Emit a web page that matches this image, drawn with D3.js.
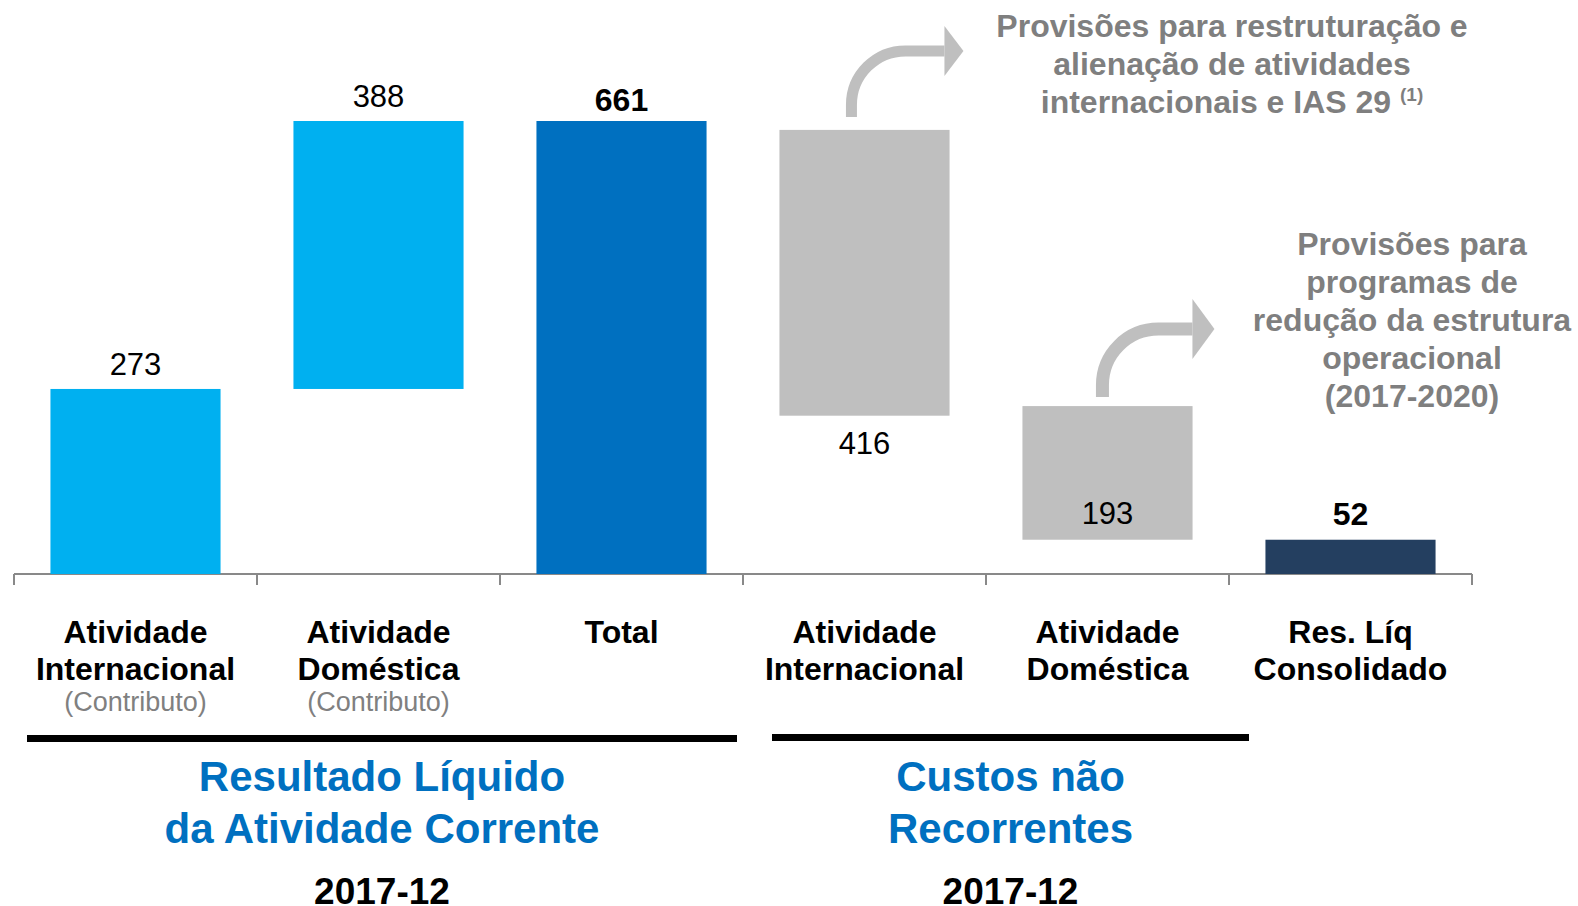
<!DOCTYPE html>
<html>
<head>
<meta charset="utf-8">
<script src="https://d3js.org/d3.v7.min.js"></script>
<style>
  body { margin: 0; background: #fff; }
  svg { display: block; font-family: "Liberation Sans", Arial, sans-serif; }
</style>
</head>
<body>
<svg width="1578" height="906"></svg>
<script>
// categories and values (EUR M)
var cats = ['intl', 'dom', 'total', 'intlCost', 'domCost', 'res'];
var catLabels = [['Atividade', 'Internacional'], ['Atividade', 'Doméstica'], ['Total'],
                 ['Atividade', 'Internacional'], ['Atividade', 'Doméstica'], ['Res. Líq', 'Consolidado']];
var subLabels = ['(Contributo)', '(Contributo)', '', '', '', ''];
var values = [273, 388, 661, 416, 193, 52];
// floating bar extents as drawn in the picture
var barFrom = [0, 270, 0, 648, 245, 0];
var barTo = [270, 661, 661, 231, 50, 50];
var barColors = ['#00B0F0', '#00B0F0', '#0070C0', '#BFBFBF', '#BFBFBF', '#243F60'];
var labelBold = [false, false, true, false, false, true];
var labelPos = ['above', 'above', 'above', 'below', 'inside', 'above'];

var groups = [
  {from: 0, to: 2, title: ['Resultado Líquido', 'da Atividade Corrente'], period: '2017-12'},
  {from: 3, to: 4, title: ['Custos não', 'Recorrentes'], period: '2017-12'}
];
var notes = [
  {bar: 3, lines: ['Provisões para restruturação e', 'alienação de atividades', 'internacionais e IAS 29'], sup: '(1)'},
  {bar: 4, lines: ['Provisões para', 'programas de', 'redução da estrutura', 'operacional', '(2017-2020)'], sup: ''}
];

var svg = d3.select('svg');

var x = d3.scaleBand().domain(cats).range([14, 1472]).paddingInner(0.3).paddingOuter(0.15);
var y = d3.scaleLinear().domain([0, 661]).range([574, 121]);

// axis line + ticks at band boundaries
var step = x.step();
var bounds = d3.range(cats.length + 1).map(function(i) { return x.range()[0] + i * step; });
svg.append('line')
  .attr('x1', bounds[0]).attr('x2', bounds[bounds.length - 1])
  .attr('y1', y(0)).attr('y2', y(0))
  .attr('stroke', '#898989').attr('stroke-width', 2);
svg.selectAll('.tick').data(bounds).enter().append('line')
  .attr('x1', function(d) { return d; }).attr('x2', function(d) { return d; })
  .attr('y1', y(0)).attr('y2', y(0) + 11)
  .attr('stroke', '#898989').attr('stroke-width', 2);

// bars
svg.selectAll('.bar').data(cats).enter().append('rect')
  .attr('x', function(d) { return x(d); })
  .attr('width', x.bandwidth())
  .attr('y', function(d, i) { return y(Math.max(barFrom[i], barTo[i])); })
  .attr('height', function(d, i) { return Math.abs(y(barFrom[i]) - y(barTo[i])); })
  .attr('fill', function(d, i) { return barColors[i]; });

// value labels
svg.selectAll('.val').data(cats).enter().append('text')
  .attr('x', function(d) { return x(d) + x.bandwidth() / 2; })
  .attr('y', function(d, i) {
    var top = y(Math.max(barFrom[i], barTo[i]));
    var bot = y(Math.min(barFrom[i], barTo[i]));
    if (labelPos[i] == 'below') return bot + 38;
    if (labelPos[i] == 'inside') return bot - 16;
    if (i == 5) return top - 15;
    return top - (labelBold[i] ? 10 : 14);
  })
  .attr('text-anchor', 'middle')
  .attr('font-size', function(d, i) { return labelBold[i] ? 32 : 31; })
  .attr('font-weight', function(d, i) { return labelBold[i] ? 'bold' : 'normal'; })
  .attr('fill', '#000')
  .text(function(d, i) { return values[i]; });

// category labels
var catG = svg.selectAll('.cat').data(cats).enter().append('text')
  .attr('text-anchor', 'middle')
  .attr('font-size', 32).attr('font-weight', 'bold').attr('fill', '#000');
catG.each(function(d, i) {
  var t = d3.select(this);
  catLabels[i].forEach(function(s, j) {
    t.append('tspan').attr('x', x(d) + x.bandwidth() / 2).attr('y', 643 + j * 37).text(s);
  });
});
svg.selectAll('.sub').data(cats).enter().append('text')
  .attr('x', function(d) { return x(d) + x.bandwidth() / 2; })
  .attr('y', 711)
  .attr('text-anchor', 'middle')
  .attr('font-size', 27).attr('fill', '#808080')
  .text(function(d, i) { return subLabels[i]; });

// group brackets and titles
var groupX = [[27, 737], [772, 1249]];
var groupY = [739, 738];
groups.forEach(function(g, k) {
  var x0 = groupX[k][0], x1 = groupX[k][1], cx = (x0 + x1) / 2;
  svg.append('rect').attr('x', x0).attr('y', groupY[k] - 4).attr('width', x1 - x0).attr('height', 7).attr('fill', '#000');
  g.title.forEach(function(s, j) {
    svg.append('text').attr('x', cx).attr('y', 791 + j * 52)
      .attr('text-anchor', 'middle').attr('font-size', 42).attr('font-weight', 'bold')
      .attr('fill', '#0070C0').text(s);
  });
  svg.append('text').attr('x', cx).attr('y', 904)
    .attr('text-anchor', 'middle').attr('font-size', 37).attr('font-weight', 'bold')
    .attr('fill', '#000').text(g.period);
});

// curved arrows + notes
function arrow(x0, y0, r, len, w, head, headLen) {
  var p = d3.path();
  p.moveTo(x0, y0);
  p.lineTo(x0, y0 - 12);
  p.arc(x0 + r, y0 - 12, r, Math.PI, 1.5 * Math.PI);
  p.lineTo(x0 + r + len, y0 - 12 - r);
  svg.append('path').attr('d', p.toString()).attr('fill', 'none')
    .attr('stroke', '#BFBFBF').attr('stroke-width', w);
  var hx = x0 + r + len, hy = y0 - 12 - r;
  svg.append('path')
    .attr('d', 'M' + hx + ',' + (hy - head) + 'L' + (hx + headLen) + ',' + hy + 'L' + hx + ',' + (hy + head) + 'Z')
    .attr('fill', '#BFBFBF');
}
arrow(x(cats[3]) + 72, y(barFrom[3]) - 13, 54, 39, 11, 25, 19);
arrow(x(cats[4]) + 80, y(barFrom[4]) - 9, 56, 34, 13, 30, 22);

var noteX = [1232, 1412];
var noteY = [37, 255];
notes.forEach(function(n, k) {
  n.lines.forEach(function(s, j) {
    var t = svg.append('text').attr('x', noteX[k]).attr('y', noteY[k] + j * 38)
      .attr('text-anchor', 'middle').attr('font-size', 32).attr('font-weight', 'bold')
      .attr('fill', '#7F7F7F').text(s);
    if (j == n.lines.length - 1 && n.sup) {
      t.append('tspan').text(' ');
      t.append('tspan').attr('font-size', 19).attr('dy', -12).text(n.sup);
    }
  });
});
</script>
</body>
</html>
